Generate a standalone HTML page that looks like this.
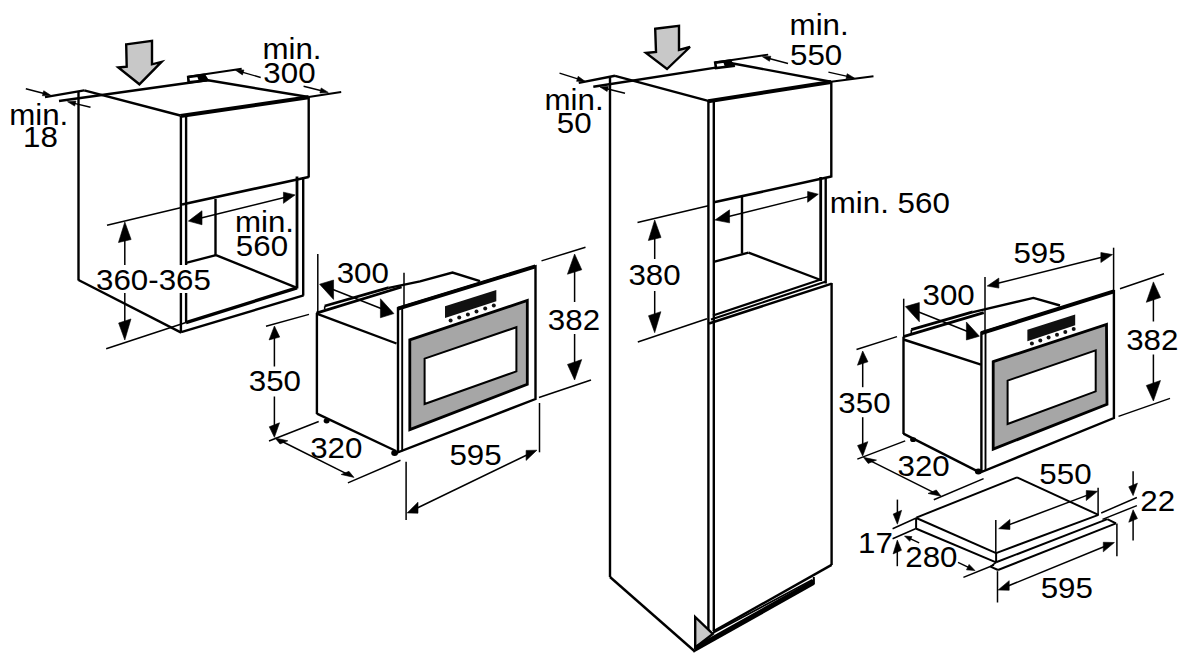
<!DOCTYPE html>
<html><head><meta charset="utf-8"><title>Installation dimensions</title>
<style>
html,body{margin:0;padding:0;background:#fff;}
body{width:1200px;height:659px;overflow:hidden;}
svg{display:block;}
text{font-family:"Liberation Sans",sans-serif;fill:#000;stroke:none;}
</style></head><body>
<svg width="1200" height="659" viewBox="0 0 1200 659">
<rect width="1200" height="659" fill="#fff"/>
<g stroke="#000" stroke-linecap="butt" stroke-linejoin="miter" fill="none">
<polygon points="126.2,44.4 152,40.8 152,64.3 161.5,61.9 139.4,84.3 118.3,67.5 126.7,66.7" fill="#c8c8c8" stroke="#000" stroke-width="2.4"/>
<line x1="45" y1="97.1" x2="84.2" y2="90.4" stroke-width="2.4"/>
<line x1="59" y1="101" x2="207" y2="80.2" stroke-width="2.4"/>
<line x1="84.2" y1="90.4" x2="180.3" y2="115.5" stroke-width="2.4"/>
<line x1="180.3" y1="116" x2="308.6" y2="97.2" stroke-width="4.0"/>
<line x1="205" y1="79.8" x2="308.6" y2="97" stroke-width="2.4"/>
<polygon points="50.8,95.3 42.4,95.77 43.73,90.74" fill="#000" stroke="#000" stroke-width="0.6"/>
<line x1="25.8" y1="88.7" x2="45" y2="93.77" stroke-width="1.4"/>
<polygon points="67.5,101.7 75.89,101.03 74.68,106.09" fill="#000" stroke="#000" stroke-width="0.6"/>
<line x1="90.5" y1="107.2" x2="73.34" y2="103.1" stroke-width="1.4"/>
<polygon points="188.2,77 204,75 207.3,80.2 188.6,82.2" fill="#fff" stroke="#000" stroke-width="2.6"/>
<line x1="188" y1="76.8" x2="241.7" y2="68.7" stroke-width="1.9"/>
<polygon points="197,76 204,75 207.3,80.2 199,81.2" fill="#000" stroke="none"/>
<polygon points="235.5,70.2 243.91,69.93 242.46,74.92" fill="#000" stroke="#000" stroke-width="0.6"/>
<line x1="260.7" y1="77.5" x2="241.26" y2="71.87" stroke-width="1.4"/>
<polygon points="328.3,92.4 319.91,93.01 321.16,87.96" fill="#000" stroke="#000" stroke-width="0.6"/>
<line x1="303.6" y1="86.3" x2="322.48" y2="90.96" stroke-width="1.4"/>
<line x1="308.6" y1="97" x2="341.2" y2="92" stroke-width="1.9"/>
<line x1="78.5" y1="91.5" x2="78.5" y2="280.5" stroke-width="2.4"/>
<line x1="78.5" y1="280" x2="181.2" y2="332.6" stroke-width="2.4"/>
<line x1="180.9" y1="116" x2="180.9" y2="332.6" stroke-width="2.4"/>
<line x1="186.1" y1="116" x2="186.1" y2="322.7" stroke-width="2.4"/>
<line x1="308.7" y1="96.5" x2="308.7" y2="177.5" stroke-width="2.4"/>
<line x1="182" y1="204.5" x2="308.7" y2="177" stroke-width="2.6"/>
<line x1="297" y1="176.5" x2="297" y2="288.5" stroke-width="2.8"/>
<line x1="303.2" y1="177" x2="303.2" y2="295.6" stroke-width="2.4"/>
<line x1="215.5" y1="199" x2="215.5" y2="256" stroke-width="2.4"/>
<line x1="186" y1="262.8" x2="216" y2="255.2" stroke-width="2.4"/>
<line x1="216" y1="255.2" x2="297" y2="287.8" stroke-width="2.4"/>
<line x1="186" y1="322.7" x2="297" y2="287.8" stroke-width="3.4"/>
<line x1="181.2" y1="332.2" x2="303.6" y2="295.4" stroke-width="2.4"/>
<polygon points="188.4,221.1 202,224.76 202,210.76" fill="#000" stroke="#000" stroke-width="0.6"/>
<polygon points="295.1,194.9 283.45,203.36 283.45,192.16" fill="#000" stroke="#000" stroke-width="0.6"/>
<line x1="200.05" y1="218.24" x2="285.39" y2="197.28" stroke-width="1.5"/>
<line x1="107" y1="225.2" x2="180.5" y2="207.7" stroke-width="1.5"/>
<line x1="106.2" y1="348.8" x2="186" y2="322.5" stroke-width="1.5"/>
<polygon points="124.8,222 131.12,239.5 118.48,242.5" fill="#000" stroke="#000" stroke-width="0.6"/>
<polygon points="124.8,340 130.97,318.96 118.63,323.04" fill="#000" stroke="#000" stroke-width="0.6"/>
<line x1="124.8" y1="239" x2="124.8" y2="323" stroke-width="1.5"/>
<line x1="317.8" y1="254" x2="317.8" y2="313" stroke-width="1.5"/>
<line x1="404" y1="272.8" x2="404" y2="308" stroke-width="1.5"/>
<polygon points="319.6,284.2 333.55,299.42 333.55,280.02" fill="#000" stroke="#000" stroke-width="0.6"/>
<polygon points="393.9,313.6 380.42,317.76 380.42,298.76" fill="#000" stroke="#000" stroke-width="0.6"/>
<line x1="331.69" y1="288.98" x2="382.28" y2="309" stroke-width="1.5"/>
<line x1="316.9" y1="313" x2="316.9" y2="414" stroke-width="2.4"/>
<line x1="316.9" y1="413.6" x2="396" y2="451" stroke-width="2.4"/>
<line x1="316.6" y1="313.6" x2="396.5" y2="343.5" stroke-width="2.4"/>
<line x1="316.4" y1="313.1" x2="401.6" y2="287" stroke-width="2.8"/>
<line x1="324.7" y1="306" x2="388.8" y2="287.7" stroke-width="2.8"/>
<line x1="324.7" y1="306.2" x2="324.7" y2="309.5" stroke-width="1.6"/>
<polyline points="388.8,287.9 420,281.3 452.5,272.5 480,281.2" fill="none" stroke-width="2.4"/>
<ellipse cx="326.6" cy="421" rx="3" ry="2.4" fill="#000" stroke="none"/>
<ellipse cx="394.6" cy="453" rx="3.4" ry="3" fill="#000" stroke="none"/>
<polygon points="398,308.2 535.5,266.3 535.5,399 398,452.3" fill="#fff" stroke="#000" stroke-width="2.4"/>
<line x1="402.2" y1="307.8" x2="402.2" y2="451.2" stroke-width="1.9"/>
<line x1="398" y1="308.7" x2="535.5" y2="266.4" stroke-width="4.0"/>
<polygon points="445,306.3 496.3,290 496.3,301.3 445,318.1" fill="#111" stroke="none"/>
<circle cx="450.6" cy="320.6" r="2" fill="#111" stroke="none"/>
<circle cx="459.2" cy="317.6" r="2" fill="#111" stroke="none"/>
<circle cx="467.9" cy="314.6" r="2" fill="#111" stroke="none"/>
<circle cx="476.5" cy="311.6" r="2" fill="#111" stroke="none"/>
<circle cx="485.2" cy="308.6" r="2" fill="#111" stroke="none"/>
<circle cx="493.8" cy="305.6" r="2" fill="#111" stroke="none"/>
<polygon points="409.8,339.8 527.3,300.5 527.3,384.2 409.8,429.6" fill="#a6a6a6" stroke="#000" stroke-width="2.8"/>
<polygon points="424.6,358.6 516.4,327.2 516.4,371.4 424.6,404" fill="#fff" stroke="#000" stroke-width="2.0"/>
<line x1="541.5" y1="260.9" x2="585.5" y2="247.2" stroke-width="1.5"/>
<line x1="539" y1="397.5" x2="591" y2="380" stroke-width="1.5"/>
<polygon points="574.6,254 581.76,269.78 567.44,274.22" fill="#000" stroke="#000" stroke-width="0.6"/>
<polygon points="574.6,380 581.7,359.59 567.5,364.41" fill="#000" stroke="#000" stroke-width="0.6"/>
<line x1="574.6" y1="270" x2="574.6" y2="364" stroke-width="1.5"/>
<line x1="266" y1="326.3" x2="309" y2="314.4" stroke-width="1.5"/>
<line x1="269" y1="441" x2="318.7" y2="421.5" stroke-width="1.5"/>
<polygon points="274.4,326 279.71,337.07 269.09,339.93" fill="#000" stroke="#000" stroke-width="0.6"/>
<polygon points="274.4,437.3 279.52,422.8 269.28,426.8" fill="#000" stroke="#000" stroke-width="0.6"/>
<line x1="274.4" y1="336.5" x2="274.4" y2="426.8" stroke-width="1.5"/>
<polygon points="275,437.9 287.84,440.81 280.04,443.93" fill="#000" stroke="#000" stroke-width="0.6"/>
<polygon points="354,477.4 348.96,471.37 341.16,474.49" fill="#000" stroke="#000" stroke-width="0.6"/>
<line x1="282.16" y1="441.48" x2="346.84" y2="473.82" stroke-width="1.5"/>
<line x1="347.9" y1="482.9" x2="400.5" y2="460.3" stroke-width="1.5"/>
<line x1="406.1" y1="461.7" x2="406.1" y2="520.1" stroke-width="1.5"/>
<line x1="539.5" y1="403" x2="539.5" y2="452.3" stroke-width="1.5"/>
<polygon points="407.2,512.9 418,513.18 418,502.18" fill="#000" stroke="#000" stroke-width="0.6"/>
<polygon points="536.9,450.2 526.1,460.42 526.1,450.42" fill="#000" stroke="#000" stroke-width="0.6"/>
<line x1="416.2" y1="508.55" x2="527.9" y2="454.55" stroke-width="1.5"/>
<polygon points="655.2,28.8 679,25.8 679,50 690,47 667,69 646,53 656,52" fill="#c8c8c8" stroke="#000" stroke-width="2.4"/>
<line x1="578.75" y1="82.9" x2="615" y2="75.8" stroke-width="2.4"/>
<line x1="593.3" y1="86.7" x2="735" y2="64.6" stroke-width="2.4"/>
<line x1="615" y1="75.8" x2="708.2" y2="100.8" stroke-width="2.4"/>
<line x1="708.2" y1="101.2" x2="831" y2="81.9" stroke-width="4.0"/>
<line x1="729" y1="62.7" x2="831" y2="81.7" stroke-width="2.4"/>
<polygon points="585,81.25 576.59,81.32 578.15,76.36" fill="#000" stroke="#000" stroke-width="0.6"/>
<line x1="559.5" y1="73.2" x2="579.28" y2="79.44" stroke-width="1.4"/>
<polygon points="600,87 608.39,86.43 607.12,91.48" fill="#000" stroke="#000" stroke-width="0.6"/>
<line x1="625" y1="93.3" x2="605.82" y2="88.47" stroke-width="1.4"/>
<polygon points="715.2,62.6 730,60.6 733.2,66 716,68" fill="#fff" stroke="#000" stroke-width="2.6"/>
<polygon points="723,61.6 730,60.6 733.2,66 725,67" fill="#000" stroke="none"/>
<line x1="715" y1="62.5" x2="768.2" y2="54.6" stroke-width="1.9"/>
<polygon points="762.4,56.7 770.8,56.24 769.46,61.27" fill="#000" stroke="#000" stroke-width="0.6"/>
<line x1="788" y1="63.5" x2="768.2" y2="58.24" stroke-width="1.4"/>
<polygon points="854.4,78 846.02,78.77 847.17,73.69" fill="#000" stroke="#000" stroke-width="0.6"/>
<line x1="828.4" y1="72.1" x2="848.55" y2="76.67" stroke-width="1.4"/>
<line x1="831" y1="81.7" x2="873.5" y2="76.3" stroke-width="1.9"/>
<line x1="610" y1="76.5" x2="610" y2="577" stroke-width="2.4"/>
<line x1="610" y1="577" x2="694.9" y2="651.5" stroke-width="2.4"/>
<line x1="708.4" y1="100.5" x2="708.4" y2="631" stroke-width="2.4"/>
<line x1="713.8" y1="100.5" x2="713.8" y2="631" stroke-width="2.4"/>
<line x1="831.3" y1="81.5" x2="831.3" y2="177.5" stroke-width="2.4"/>
<line x1="714" y1="202.3" x2="831.3" y2="176.5" stroke-width="2.6"/>
<line x1="820.7" y1="177" x2="820.7" y2="281" stroke-width="2.8"/>
<line x1="825.7" y1="177" x2="825.7" y2="283.5" stroke-width="2.4"/>
<line x1="742" y1="197" x2="742" y2="253.5" stroke-width="2.4"/>
<line x1="713.7" y1="261.9" x2="748.5" y2="252.6" stroke-width="2.4"/>
<line x1="748.5" y1="252.6" x2="820.7" y2="280" stroke-width="2.4"/>
<line x1="713" y1="315.5" x2="820.7" y2="279.5" stroke-width="2.3"/>
<line x1="711" y1="319.5" x2="826" y2="281.5" stroke-width="2.0"/>
<line x1="709" y1="323.5" x2="831.8" y2="283.6" stroke-width="2.5"/>
<line x1="831.6" y1="283" x2="831.6" y2="565" stroke-width="2.4"/>
<line x1="831.6" y1="564.9" x2="713.1" y2="631.6" stroke-width="2.4"/>
<polygon points="695.2,617 695.2,647.5 712.8,634" fill="#c8c8c8" stroke="#000" stroke-width="2.4"/>
<line x1="712.5" y1="633.3" x2="812.4" y2="579.8" stroke-width="1.8"/>
<polygon points="693.5,652.8 814.5,584.8 814.5,578.8 696.5,645" fill="#000" stroke="none"/>
<line x1="813.8" y1="577" x2="813.8" y2="584" stroke-width="2.0"/>
<polygon points="715,220 729.55,222.87 729.55,209.87" fill="#000" stroke="#000" stroke-width="0.6"/>
<polygon points="818.3,194.2 807.63,202.27 807.63,191.47" fill="#000" stroke="#000" stroke-width="0.6"/>
<line x1="727.61" y1="216.85" x2="809.57" y2="196.38" stroke-width="1.5"/>
<line x1="637.5" y1="222.5" x2="708.3" y2="205.8" stroke-width="1.5"/>
<line x1="637.8" y1="342" x2="707" y2="318.8" stroke-width="1.5"/>
<polygon points="654.7,220 661.03,237.51 648.37,240.49" fill="#000" stroke="#000" stroke-width="0.6"/>
<polygon points="654.7,332.7 660.87,311.66 648.53,315.74" fill="#000" stroke="#000" stroke-width="0.6"/>
<line x1="654.7" y1="237" x2="654.7" y2="315.7" stroke-width="1.5"/>
<line x1="903.7" y1="298.7" x2="903.7" y2="337" stroke-width="1.5"/>
<line x1="985" y1="277" x2="985" y2="331" stroke-width="1.5"/>
<polygon points="905.4,306.6 919.33,321.77 919.33,302.57" fill="#000" stroke="#000" stroke-width="0.6"/>
<polygon points="979.4,336.2 966.4,340 966.4,322" fill="#000" stroke="#000" stroke-width="0.6"/>
<line x1="917.47" y1="311.43" x2="968.26" y2="331.74" stroke-width="1.5"/>
<line x1="1113.6" y1="247.7" x2="1113.6" y2="292" stroke-width="1.5"/>
<polygon points="987.2,286 998.84,288.08 998.84,278.08" fill="#000" stroke="#000" stroke-width="0.6"/>
<polygon points="1112.5,254.6 1100.86,262.52 1100.86,252.52" fill="#000" stroke="#000" stroke-width="0.6"/>
<line x1="996.9" y1="283.57" x2="1102.8" y2="257.03" stroke-width="1.5"/>
<line x1="903.5" y1="336.7" x2="903.5" y2="434" stroke-width="2.4"/>
<line x1="903.5" y1="339.5" x2="981" y2="364.7" stroke-width="2.4"/>
<line x1="903.4" y1="433.6" x2="978.7" y2="471.9" stroke-width="2.4"/>
<line x1="903.4" y1="336.7" x2="983.8" y2="312.6" stroke-width="2.8"/>
<line x1="911.3" y1="329.6" x2="972.9" y2="311.9" stroke-width="2.8"/>
<line x1="911.3" y1="329.8" x2="911.3" y2="333.5" stroke-width="1.6"/>
<polyline points="972.9,312.1 1033.4,297.9 1060,305.5" fill="none" stroke-width="2.4"/>
<ellipse cx="913.1" cy="439.7" rx="3" ry="2.4" fill="#000" stroke="none"/>
<ellipse cx="978.3" cy="471.6" rx="3.4" ry="3" fill="#000" stroke="none"/>
<polygon points="981.4,332.7 1113.9,291.3 1113.9,418 981.4,472" fill="#fff" stroke="#000" stroke-width="2.4"/>
<line x1="985.5" y1="332" x2="985.5" y2="470.6" stroke-width="1.9"/>
<line x1="981.4" y1="333.1" x2="1113.9" y2="291.4" stroke-width="4.0"/>
<polygon points="1027.4,329.8 1075.2,314.6 1075.2,325.2 1027.4,341.2" fill="#111" stroke="none"/>
<circle cx="1031.9" cy="343.4" r="2" fill="#111" stroke="none"/>
<circle cx="1040.3" cy="340.5" r="2" fill="#111" stroke="none"/>
<circle cx="1048.6" cy="337.6" r="2" fill="#111" stroke="none"/>
<circle cx="1057.0" cy="334.8" r="2" fill="#111" stroke="none"/>
<circle cx="1065.3" cy="331.9" r="2" fill="#111" stroke="none"/>
<circle cx="1073.7" cy="329.0" r="2" fill="#111" stroke="none"/>
<polygon points="993.2,361.7 1106.5,324.5 1107,404.3 993.2,449.1" fill="#a6a6a6" stroke="#000" stroke-width="2.8"/>
<polygon points="1007.6,380.6 1095.7,350.3 1095.7,391.4 1007.6,424" fill="#fff" stroke="#000" stroke-width="2.0"/>
<line x1="1120" y1="288.7" x2="1164" y2="273.7" stroke-width="1.5"/>
<line x1="1118.5" y1="416.4" x2="1170" y2="398.4" stroke-width="1.5"/>
<polygon points="1153.4,281.9 1160.5,297.49 1146.3,302.31" fill="#000" stroke="#000" stroke-width="0.6"/>
<polygon points="1153.4,401 1160.48,380.52 1146.32,385.48" fill="#000" stroke="#000" stroke-width="0.6"/>
<line x1="1153.4" y1="297.9" x2="1153.4" y2="385" stroke-width="1.5"/>
<line x1="856.5" y1="349.5" x2="897" y2="336.6" stroke-width="1.5"/>
<line x1="857.3" y1="459.1" x2="905.2" y2="440.9" stroke-width="1.5"/>
<polygon points="862.7,351 867.94,361.82 857.46,365.18" fill="#000" stroke="#000" stroke-width="0.6"/>
<polygon points="862.7,456.1 867.84,441.65 857.56,445.55" fill="#000" stroke="#000" stroke-width="0.6"/>
<line x1="862.7" y1="361.5" x2="862.7" y2="445.6" stroke-width="1.5"/>
<polygon points="863.4,457.3 876.52,460.11 868.16,463.45" fill="#000" stroke="#000" stroke-width="0.6"/>
<polygon points="941.1,496.2 936.31,489.98 928.01,493.47" fill="#000" stroke="#000" stroke-width="0.6"/>
<line x1="870.55" y1="460.88" x2="933.95" y2="492.62" stroke-width="1.5"/>
<line x1="933.8" y1="499.8" x2="983.6" y2="478.6" stroke-width="1.5"/>
<line x1="892.6" y1="528.7" x2="916.3" y2="518" stroke-width="1.5"/>
<line x1="916.3" y1="517.6" x2="1017" y2="477.4" stroke-width="2.0"/>
<line x1="1017" y1="477.4" x2="1098.5" y2="514.9" stroke-width="2.0"/>
<line x1="916.3" y1="518" x2="996.1" y2="553.1" stroke-width="2.0"/>
<line x1="996.1" y1="553.1" x2="1098.5" y2="514.9" stroke-width="2.0"/>
<line x1="892.6" y1="538.7" x2="915.5" y2="528.7" stroke-width="1.5"/>
<line x1="916.1" y1="518" x2="916.1" y2="529" stroke-width="2.0"/>
<line x1="915.8" y1="528.5" x2="996.1" y2="562.3" stroke-width="2.0"/>
<line x1="996.1" y1="553" x2="996.1" y2="562.3" stroke-width="2.0"/>
<line x1="996.1" y1="562.3" x2="1107.3" y2="519.1" stroke-width="2.0"/>
<line x1="1107.3" y1="519.1" x2="1116" y2="523.4" stroke-width="2.0"/>
<line x1="990.5" y1="566.6" x2="998" y2="570" stroke-width="2.0"/>
<line x1="998" y1="570" x2="1116" y2="523.4" stroke-width="2.0"/>
<line x1="963.4" y1="577.4" x2="994" y2="565" stroke-width="1.5"/>
<line x1="990.5" y1="566.6" x2="996.1" y2="562.3" stroke-width="1.6"/>
<line x1="995.8" y1="520" x2="995.8" y2="553" stroke-width="1.5"/>
<line x1="1098.1" y1="487.7" x2="1098.1" y2="515" stroke-width="1.5"/>
<polygon points="998.7,528.7 1009.92,529.45 1009.92,519.45" fill="#000" stroke="#000" stroke-width="0.6"/>
<polygon points="1097.5,491.3 1086.28,500.55 1086.28,490.55" fill="#000" stroke="#000" stroke-width="0.6"/>
<line x1="1008.05" y1="525.16" x2="1088.15" y2="494.84" stroke-width="1.5"/>
<line x1="997.5" y1="571.2" x2="997.5" y2="602.5" stroke-width="1.5"/>
<line x1="1116.9" y1="523.4" x2="1116.9" y2="556.3" stroke-width="1.5"/>
<polygon points="998.1,590 1009.21,590.26 1009.21,580.66" fill="#000" stroke="#000" stroke-width="0.6"/>
<polygon points="1114.4,542.5 1103.29,551.84 1103.29,542.24" fill="#000" stroke="#000" stroke-width="0.6"/>
<line x1="1007.36" y1="586.22" x2="1105.14" y2="546.28" stroke-width="1.5"/>
<line x1="1101.2" y1="513" x2="1136.9" y2="497.5" stroke-width="1.5"/>
<line x1="1102.5" y1="519.4" x2="1136.9" y2="505.6" stroke-width="1.5"/>
<polygon points="1133.1,495.6 1137.43,483.18 1128.77,486.82" fill="#000" stroke="#000" stroke-width="0.6"/>
<line x1="1133.1" y1="471.2" x2="1133.1" y2="487" stroke-width="1.5"/>
<polygon points="1133.1,509.8 1137.43,518.58 1128.77,522.22" fill="#000" stroke="#000" stroke-width="0.6"/>
<line x1="1133.1" y1="540.4" x2="1133.1" y2="518.4" stroke-width="1.5"/>
<polygon points="897.4,524.2 901.61,510.35 893.19,514.05" fill="#000" stroke="#000" stroke-width="0.6"/>
<line x1="897.4" y1="499.6" x2="897.4" y2="514.2" stroke-width="1.5"/>
<polygon points="897.3,540.1 901.51,550.25 893.09,553.95" fill="#000" stroke="#000" stroke-width="0.6"/>
<line x1="897.3" y1="566.2" x2="897.3" y2="550.1" stroke-width="1.5"/>
<polygon points="904.5,536 911.94,536.62 909.73,541.33" fill="#000" stroke="#000" stroke-width="0.6"/>
<line x1="919.2" y1="542.9" x2="909.03" y2="538.12" stroke-width="1.4"/>
<polygon points="975,570.6 966.49,569.83 969.1,564.42" fill="#000" stroke="#000" stroke-width="0.6"/>
<line x1="958" y1="562.4" x2="969.6" y2="567.99" stroke-width="1.4"/>
<rect x="110" y="265" width="92" height="28" fill="#fff" stroke="none"/>
<rect x="627" y="259" width="56" height="32" fill="#fff" stroke="none"/>
<rect x="546" y="302" width="56" height="32" fill="#fff" stroke="none"/>
<rect x="247" y="366.5" width="56" height="30" fill="#fff" stroke="none"/>
<rect x="1124" y="321.5" width="56" height="33" fill="#fff" stroke="none"/>
<rect x="836" y="387.2" width="55" height="30" fill="#fff" stroke="none"/>
<text transform="translate(9.21 124.6) scale(1.05 1)" font-size="29.8">min.</text>
<text transform="translate(23.00 147.3) scale(1.05 1)" font-size="29.8">18</text>
<text transform="translate(262.41 58.9) scale(1.05 1)" font-size="29.8">min.</text>
<text transform="translate(263.35 82.6) scale(1.05 1)" font-size="29.8">300</text>
<text transform="translate(234.91 231.8) scale(1.05 1)" font-size="29.8">min.</text>
<text transform="translate(235.85 255.6) scale(1.05 1)" font-size="29.8">560</text>
<text transform="translate(96.05 289.5) scale(1.05 1)" font-size="29.8">360-365</text>
<text transform="translate(336.65 282.5) scale(1.05 1)" font-size="29.8">300</text>
<text transform="translate(547.85 329.6) scale(1.05 1)" font-size="29.8">382</text>
<text transform="translate(248.75 391.3) scale(1.05 1)" font-size="29.8">350</text>
<text transform="translate(310.15 457.6) scale(1.05 1)" font-size="29.8">320</text>
<text transform="translate(449.45 465) scale(1.05 1)" font-size="29.8">595</text>
<text transform="translate(789.61 34.6) scale(1.05 1)" font-size="29.8">min.</text>
<text transform="translate(790.05 65) scale(1.05 1)" font-size="29.8">550</text>
<text transform="translate(544.51 109.8) scale(1.05 1)" font-size="29.8">min.</text>
<text transform="translate(556.75 133.2) scale(1.05 1)" font-size="29.8">50</text>
<text transform="translate(829.81 213) scale(1.05 1)" font-size="29.8">min. 560</text>
<text transform="translate(628.45 284.5) scale(1.05 1)" font-size="29.8">380</text>
<text transform="translate(922.55 305.2) scale(1.05 1)" font-size="29.8">300</text>
<text transform="translate(1013.45 262.8) scale(1.05 1)" font-size="29.8">595</text>
<text transform="translate(1126.15 349.8) scale(1.05 1)" font-size="29.8">382</text>
<text transform="translate(838.35 412.8) scale(1.05 1)" font-size="29.8">350</text>
<text transform="translate(897.55 476.1) scale(1.05 1)" font-size="29.8">320</text>
<text transform="translate(1039.35 483.7) scale(1.05 1)" font-size="29.8">550</text>
<text transform="translate(1140.34 510.8) scale(1.05 1)" font-size="29.8">22</text>
<text transform="translate(858.00 552.5) scale(1.05 1)" font-size="29.8">17</text>
<text transform="translate(905.24 567) scale(1.05 1)" font-size="29.8">280</text>
<text transform="translate(1040.65 597.8) scale(1.05 1)" font-size="29.8">595</text>
</g>
</svg>
</body></html>
